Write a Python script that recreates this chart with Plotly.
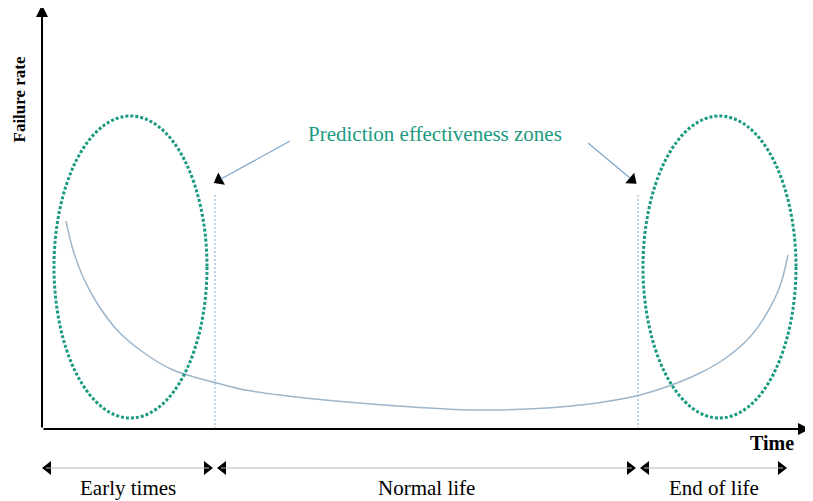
import plotly.graph_objects as go
import math

# ---- data (time units / failure-rate units, origin at the axes corner) ----
time = [24, 31, 41, 55, 75, 98, 131, 175, 198, 238, 305, 371, 438, 505, 555, 598,
        635, 658, 681, 708, 725, 738, 746]
failure_rate = [208, 179, 152, 126, 99, 79, 59, 46, 40, 34, 27, 22, 19, 21, 26, 34,
                46, 56, 69, 92, 116, 143, 174]

phases = ["Early times", "Normal life", "End of life"]
phase_start = [0, 175, 598]
phase_end = [171, 594, 745]
boundaries = [173, 596]

zone_x0 = [12, 601]
zone_x1 = [165, 754]
zone_y0 = [11, 11]
zone_y1 = [313, 313]

GREEN = "#1a9a80"
CURVE = "#9db6cc"
GUIDE = "#7fa6c8"
SERIF = "Liberation Serif, Times New Roman, serif"

fig = go.Figure()

# bathtub curve
fig.add_trace(go.Scatter(x=time, y=failure_rate, mode="lines",
                         line=dict(color=CURVE, width=1.5, shape="spline", smoothing=1.0),
                         hoverinfo="skip", showlegend=False))

shapes = []
# zone ellipses
for x0, x1, y0, y1 in zip(zone_x0, zone_x1, zone_y0, zone_y1):
    shapes.append(dict(type="circle", xref="x", yref="y", x0=x0, x1=x1, y0=y0, y1=y1,
                       line=dict(color=GREEN, width=3, dash="3px,2px")))
# boundary dotted lines
for b in boundaries:
    shapes.append(dict(type="line", xref="x", yref="y", x0=b, x1=b, y0=0, y1=236,
                       line=dict(color=GUIDE, width=1, dash="2px,2px")))
# phase span lines
for s, e in zip(phase_start, phase_end):
    shapes.append(dict(type="line", xref="x", yref="y", x0=s + 4, x1=e - 4, y0=-39, y1=-39,
                       line=dict(color="#b4bcc4", width=1.2)))
# prediction pointer lines
pointers = [((248, 288), (179, 250)), ((546, 286), (588, 251))]
for (tx, ty), (hx, hy) in pointers:
    shapes.append(dict(type="line", xref="x", yref="y", x0=tx, y0=ty, x1=hx, y1=hy,
                       line=dict(color=GUIDE, width=1.2)))

# arrow heads for phase spans
hx, hy, hs = [], [], []
for s, e in zip(phase_start, phase_end):
    hx += [s + 6, e - 6]
    hy += [-39, -39]
    hs += ["triangle-left", "triangle-right"]
fig.add_trace(go.Scatter(x=hx, y=hy, mode="markers",
                         marker=dict(symbol=hs, size=12, color="black"),
                         hoverinfo="skip", showlegend=False))

# pointer heads
tips = [(177, 249), (590, 249)]
angles = []
for (tx, ty), (px, py) in zip([p[0] for p in pointers], tips):
    dx, dy = px - tx, -(py - ty)
    angles.append(math.degrees(math.atan2(dx, -dy)))
fig.add_trace(go.Scatter(x=[t[0] for t in tips], y=[t[1] for t in tips], mode="markers",
                         marker=dict(symbol="triangle-up", size=12, color="black", angle=angles),
                         hoverinfo="skip", showlegend=False))

annotations = [
    # axes with arrows
    dict(x=768, y=0, ax=0, ay=0, xref="x", yref="y", axref="x", ayref="y", text="",
         showarrow=True, arrowhead=2, arrowsize=1.2, arrowwidth=2, arrowcolor="black"),
    dict(x=0, y=424, ax=0, ay=0, xref="x", yref="y", axref="x", ayref="y", text="",
         showarrow=True, arrowhead=2, arrowsize=1.2, arrowwidth=2, arrowcolor="black"),
    dict(x=-23.5, y=330, xref="x", yref="y", text="<b>Failure rate</b>", textangle=-90,
         showarrow=False, font=dict(family=SERIF, size=17, color="black")),
    dict(x=730, y=-14, xref="x", yref="y", text="<b>Time</b>", showarrow=False,
         font=dict(family=SERIF, size=20, color="black")),
    dict(x=393, y=295, xref="x", yref="y", text="Prediction effectiveness zones",
         showarrow=False, font=dict(family=SERIF, size=21, color=GREEN)),
]
for name, s, e in zip(phases, phase_start, phase_end):
    annotations.append(dict(x=(s + e) / 2, y=-59, xref="x", yref="y", text=name,
                            showarrow=False, font=dict(family=SERIF, size=21, color="black")))

fig.update_layout(
    width=805, height=493, autosize=False,
    margin=dict(l=0, r=0, t=0, b=0),
    paper_bgcolor="white", plot_bgcolor="white",
    xaxis=dict(range=[-34, 771], visible=False, fixedrange=True),
    yaxis=dict(range=[-72, 421], visible=False, fixedrange=True),
    shapes=shapes, annotations=annotations, showlegend=False,
)

fig.write_html("out.html")
